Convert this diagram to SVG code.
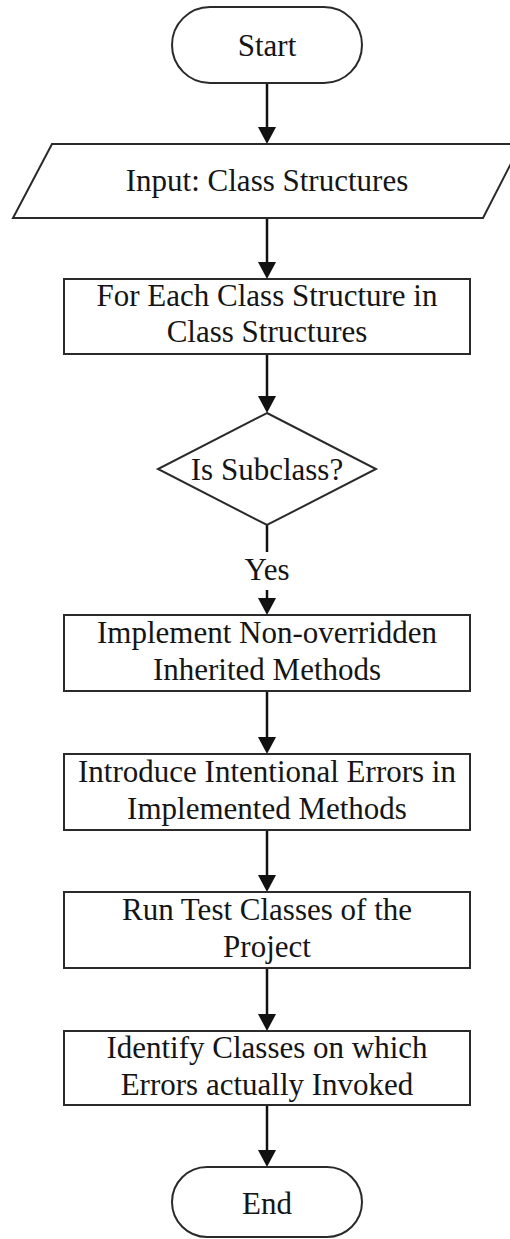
<svg xmlns="http://www.w3.org/2000/svg" width="510" height="1239" viewBox="0 0 510 1239">
  <style>
    .shape { fill: #ffffff; stroke: #2a2a2a; stroke-width: 2; }
    .label { font-family: "Liberation Serif", "Times New Roman", serif; font-size: 31px; fill: #151515; text-anchor: middle; }
    .flow { stroke: #111111; stroke-width: 2.5; fill: none; }
    .arrow { stroke: #111111; stroke-width: 2.5; fill: none; marker-end: url(#head); }
  </style>
  <defs>
    <marker id="head" viewBox="0 0 17 18" refX="11" refY="9" markerWidth="17" markerHeight="18" markerUnits="userSpaceOnUse" orient="auto">
      <path d="M0,0 L17,9 L0,18 Z" fill="#111111"/>
    </marker>
  </defs>
  <rect width="510" height="1239" fill="#ffffff"/>

  <!-- connectors -->
  <g id="connectors">
    <line class="arrow" x1="267" y1="83" x2="267" y2="138"/>
    <line class="arrow" x1="267" y1="218" x2="267" y2="273"/>
    <line class="arrow" x1="267" y1="354" x2="267" y2="407"/>
    <line class="flow" x1="267" y1="525" x2="267" y2="552"/>
    <line class="arrow" x1="267" y1="590" x2="267" y2="609"/>
    <line class="arrow" x1="267" y1="691" x2="267" y2="748"/>
    <line class="arrow" x1="267" y1="830" x2="267" y2="886"/>
    <line class="arrow" x1="267" y1="968" x2="267" y2="1025"/>
    <line class="arrow" x1="267" y1="1105" x2="267" y2="1161"/>
    <text class="label" x="267" y="580">Yes</text>
  </g>

  <!-- nodes -->
  <g id="start">
    <rect class="shape" x="172" y="7" width="190" height="76" rx="38" ry="38"/>
    <text class="label" x="267" y="56">Start</text>
  </g>

  <g id="input">
    <polygon class="shape" points="52,144 521,144 483,218 13,218"/>
    <text class="label" x="267" y="191">Input: Class Structures</text>
  </g>

  <g id="for-each">
    <rect class="shape" x="64" y="279" width="406" height="75"/>
    <text class="label" x="267" y="306">For Each Class Structure in</text>
    <text class="label" x="267" y="342">Class Structures</text>
  </g>

  <g id="is-subclass">
    <polygon class="shape" points="267,413 376,469 267,525 158,469"/>
    <text class="label" x="267" y="480">Is Subclass?</text>
  </g>

  <g id="implement">
    <rect class="shape" x="64" y="615" width="406" height="76"/>
    <text class="label" x="267" y="643">Implement Non-overridden</text>
    <text class="label" x="267" y="680">Inherited Methods</text>
  </g>

  <g id="introduce-errors">
    <rect class="shape" x="64" y="754" width="406" height="76"/>
    <text class="label" x="267" y="782">Introduce Intentional Errors in</text>
    <text class="label" x="267" y="819">Implemented Methods</text>
  </g>

  <g id="run-tests">
    <rect class="shape" x="64" y="892" width="406" height="76"/>
    <text class="label" x="267" y="920">Run Test Classes of the</text>
    <text class="label" x="267" y="957">Project</text>
  </g>

  <g id="identify">
    <rect class="shape" x="64" y="1031" width="406" height="74"/>
    <text class="label" x="267" y="1058">Identify Classes on which</text>
    <text class="label" x="267" y="1095">Errors actually Invoked</text>
  </g>

  <g id="end">
    <rect class="shape" x="172" y="1167" width="190" height="70" rx="35" ry="35"/>
    <text class="label" x="267" y="1214">End</text>
  </g>
</svg>
